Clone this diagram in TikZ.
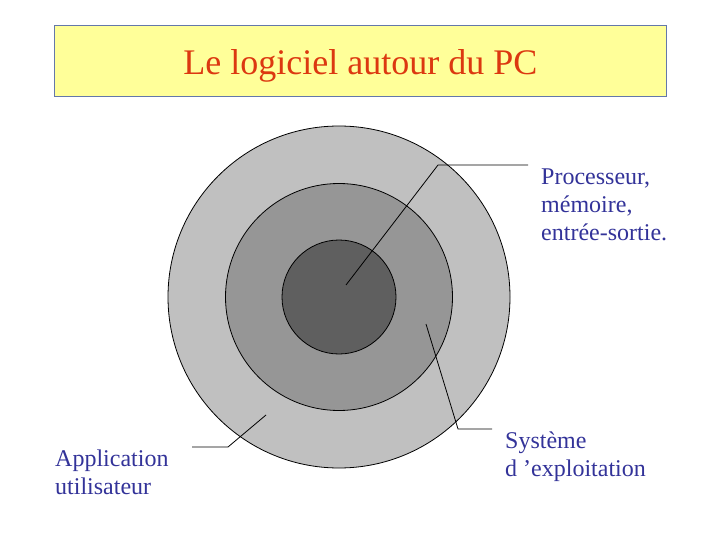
\documentclass[tikz,border=0pt]{standalone}
\usepackage{fontspec}
\setmainfont{Liberation Serif}
\usetikzlibrary{positioning}
\definecolor{titlefill}{RGB}{255,255,153}
\definecolor{titleframe}{RGB}{100,120,170}
\definecolor{titlered}{RGB}{220,56,16}
\definecolor{labelblue}{RGB}{51,51,153}
\definecolor{ringouter}{RGB}{192,192,192}
\definecolor{ringmiddle}{RGB}{150,150,150}
\definecolor{ringcore}{RGB}{95,95,95}
\tikzset{
  ring/.style={circle, draw, line width=0.8pt, inner sep=0pt},
  pointer/.style={line width=0.8pt},
  pointertext/.style={align=left, inner sep=0pt, anchor=north west,
    text=labelblue, font=\fontsize{24}{28}\selectfont}
}

\begin{document}
\begin{tikzpicture}[x=1pt, y=-1pt]
        \useasboundingbox (0,0) rectangle (720,540);
        \node[draw=titleframe, fill=titlefill, line width=0.8pt, anchor=north west,
              minimum width=612pt, minimum height=71pt, text=titlered,
              text height=27pt, text depth=0pt,
              font=\fontsize{36}{40}\selectfont] (title) at (54,25) {Le logiciel autour du PC};
        \node[ring, fill=ringouter, minimum size=342pt] (outer) at (339,297) {};
        \node[ring, fill=ringmiddle, minimum size=227pt] (middle) at (outer.center) {};
        \node[ring, fill=ringcore, minimum size=114pt] (core) at (outer.center) {};
        \node[pointertext] (hw) at (541,169) {Processeur,\\mémoire,\\entrée-sortie.};
        \node[pointertext] (os) at (505,432) {Système\\d ’exploitation};
        \node[pointertext] (app) at (55,450) {Application\\utilisateur};
        \coordinate (hwtip) at (346,285);
        \coordinate (hwbend) at (438,165);
        \coordinate (hwend) at (528,165);
        \coordinate (ostip) at (426,324);
        \coordinate (osbend) at (458,429);
        \coordinate (osend) at (492,429);
        \coordinate (apptip) at (266,415);
        \coordinate (appbend) at (228,447);
        \coordinate (append) at (192,447);
        \draw[pointer] (hwtip) -- (hwbend) -- (hwend);
        \draw[pointer] (ostip) -- (osbend) -- (osend);
        \draw[pointer] (apptip) -- (appbend) -- (append);
    \end{tikzpicture}
\end{document}
